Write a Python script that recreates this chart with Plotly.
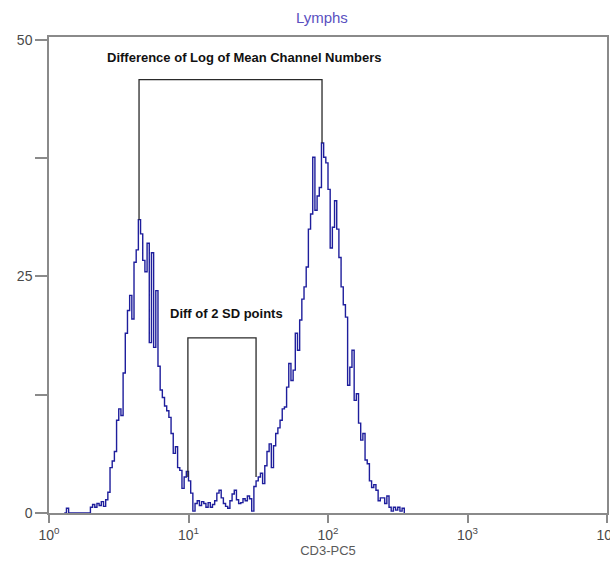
import numpy as np
import plotly.graph_objects as go

# ---- data ----
# histogram channels: log10 position = channel / 64 (256 channels across 4 decades)
first_channel = 7
counts = [
    0, 0.5, 0, 0, 0, 0, 0, 0, 0, 0, 0, 0,          # ch 7-18
    0.6, 0.9, 0.6, 1.0, 0.8, 1.2, 0.7, 1.4, 2.2,   # ch 19-27
    4.8, 5.5, 6.5, 9.8, 11.0, 10.3, 14.8, 19.0, 21.4, 23.0,  # ch 28-37
    20.5, 26.5, 27.8, 31.0, 29.5, 26.7, 25.5, 28.5, 18.0, 27.5,  # ch 38-47
    17.5, 23.5, 15.5, 13.0, 12.2, 11.3, 10.8, 10.1, 8.4, 6.3,  # ch 48-57
    7.0, 4.8, 4.5, 2.6, 3.8, 4.4, 3.4, 2.1, 0.2, 1.0,  # ch 58-67
    1.3, 0.8, 1.2, 1.0, 0.6, 1.1, 0.6, 0.9, 1.3, 2.1,  # ch 68-77
    2.4, 1.6, 1.0, 0.7, 0.5, 1.3, 2.0, 2.4, 1.4, 1.0,  # ch 78-87
    1.1, 1.5, 1.3, 1.8, 1.5, 0.2, 2.8, 3.4, 3.8, 4.2,  # ch 88-97
    3.1, 5.0, 6.5, 7.3, 4.8, 7.1, 8.4, 9.0, 9.8, 11.0,  # ch 98-107
    11.2, 13.3, 15.8, 14.0, 15.1, 19.0, 17.2, 20.4, 22.6, 23.9,  # ch 108-117
    26.0, 30.0, 31.6, 37.6, 32.0, 33.5, 34.4, 39.1, 37.6, 37.0,  # ch 118-127
    34.2, 28.0, 30.2, 33.0, 30.0, 27.0, 23.9, 22.0, 20.7, 13.5,  # ch 128-137
    15.4, 17.2, 11.9, 12.6, 9.5, 7.7, 8.4, 5.6, 5.2, 3.4,  # ch 138-147
    2.7, 3.0, 2.4, 1.3, 1.6, 1.6, 1.0, 1.8, 0.6, 0.2,  # ch 148-157
    0.6, 0.3, 0.6, 0.2, 0.5, 0,  # ch 158-163
]
channels_per_decade = 64

# annotation brackets (x in CD3-PC5 units, y in counts)
mean_channels = [4.42, 90.6]
mean_bracket_top = 45.8
mean_bracket_feet = [31.0, 39.1]
sd_points = [9.9, 30.5]
sd_bracket_top = 18.5
sd_bracket_feet = [3.8, 3.8]

label_mean = "Difference of Log of Mean Channel Numbers"
label_sd = "Diff of 2 SD points"
title_text = "Lymphs"
x_title = "CD3-PC5"
x_tickvals = [1, 10, 100, 1000, 10000]
x_ticktext = ["10<sup>0</sup>", "10<sup>1</sup>", "10<sup>2</sup>", "10<sup>3</sup>", "10<sup>4</sup>"]
y_tickvals = [0, 25, 50]
y_ticktext = ["0", "25", "50"]
y_minor_tickvals = [12.5, 37.5]

# ---- figure ----
ch = np.arange(first_channel, first_channel + len(counts))
xvals = 10 ** (ch / channels_per_decade)

fig = go.Figure()
fig.add_trace(go.Scatter(
    x=xvals, y=counts, mode="lines", line=dict(color="#1e1e9c", width=1.4, shape="hv"),
    hoverinfo="skip", showlegend=False))

bracket_col = "#2a2a2a"
# mean bracket
fig.add_trace(go.Scatter(
    x=[mean_channels[0], mean_channels[0], mean_channels[1], mean_channels[1]],
    y=[mean_bracket_feet[0], mean_bracket_top, mean_bracket_top, mean_bracket_feet[1]],
    mode="lines", line=dict(color=bracket_col, width=1.3), hoverinfo="skip", showlegend=False))
# SD bracket
fig.add_trace(go.Scatter(
    x=[sd_points[0], sd_points[0], sd_points[1], sd_points[1]],
    y=[sd_bracket_feet[0], sd_bracket_top, sd_bracket_top, sd_bracket_feet[1]],
    mode="lines", line=dict(color=bracket_col, width=1.3), hoverinfo="skip", showlegend=False))

fig.add_annotation(x=np.log10(25.0), y=48.1, text="<b>" + label_mean + "</b>", showarrow=False,
                   font=dict(family="Liberation Sans", size=13, color="#111111"))
fig.add_annotation(x=np.log10(18.6), y=21.1, text="<b>" + label_sd + "</b>", showarrow=False,
                   font=dict(family="Liberation Sans", size=13, color="#111111"))

axis_col = "#8a8a8a"
fig.update_layout(
    width=610, height=561,
    margin=dict(l=49, r=3, t=37, b=48, autoexpand=False),
    paper_bgcolor="white", plot_bgcolor="white",
    title=dict(text=title_text, x=0.489, xref="paper", xanchor="center",
               y=0.968, yref="container", yanchor="middle",
               font=dict(family="Liberation Sans", size=15, color="#5a50c0")),
    font=dict(family="Liberation Sans", size=13, color="#4a4a4a"),
)
fig.update_xaxes(
    type="log", range=[0, 4], tickvals=x_tickvals, ticktext=x_ticktext,
    ticklabeloverflow="allow", automargin=False,
    showgrid=False, zeroline=False, showline=True, linecolor=axis_col, linewidth=1.5,
    mirror=True, ticks="outside", ticklen=8, tickcolor=axis_col, tickwidth=1.5,
    tickfont=dict(size=14, color="#4a4a4a"),
    title=dict(text=x_title, font=dict(size=13, color="#5a5a5a"), standoff=4),
)
fig.update_yaxes(
    range=[0, 50.3], tickvals=y_tickvals, ticktext=y_ticktext, automargin=False,
    showgrid=False, zeroline=False, showline=True, linecolor=axis_col, linewidth=1.5,
    mirror=True, ticks="outside", ticklen=12, tickcolor=axis_col, tickwidth=1.5,
    tickfont=dict(size=14, color="#4a4a4a"),
    minor=dict(tickvals=y_minor_tickvals, ticks="outside", ticklen=12,
               tickcolor=axis_col, tickwidth=1.5, showgrid=False),
)

fig.write_html("out.html")
